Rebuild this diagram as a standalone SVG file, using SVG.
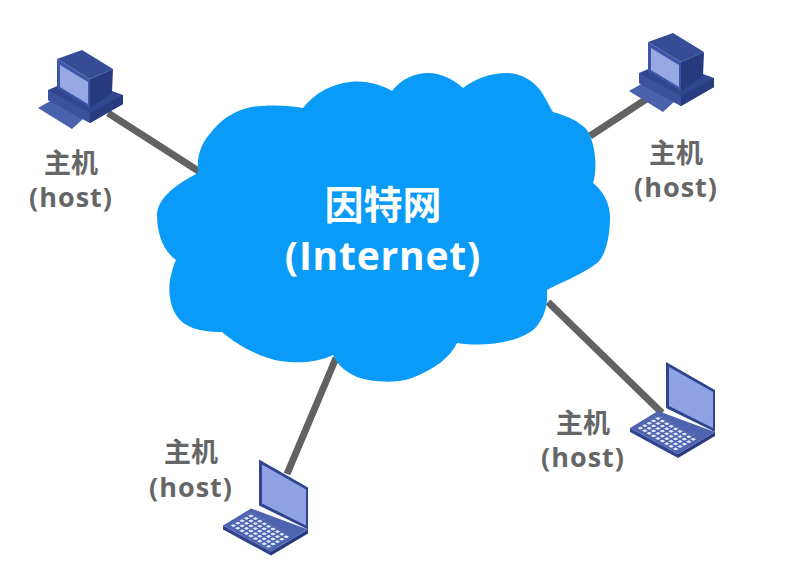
<svg xmlns="http://www.w3.org/2000/svg" width="788" height="572" viewBox="0 0 788 572">
<style>
.lbl{font-family:"Open Sans","Noto Sans CJK SC",sans-serif;font-size:27px;font-weight:700;fill:#666;text-anchor:middle}
.lat{letter-spacing:1px}
.big{font-family:"Open Sans","Noto Sans CJK SC",sans-serif;font-size:39px;font-weight:700;fill:#fff;text-anchor:middle}
.bigl{letter-spacing:.8px}
.wire{stroke:#626262;stroke-width:7;fill:none}
</style>
<defs>
<g id="desktop">
<path d="M38 108L52 100L84 118L72 129Z" fill="#4a62ad"/>
<path d="M48 90L76 78L123 95V104L90 123L48 100Z" fill="#30468f"/>
<path d="M48 90L90 113V123L48 100Z" fill="#3c519c"/>
<path d="M90 113L123 95V104L90 123Z" fill="#2a3c80"/>
<path d="M57 59L82 50L113 69L90 79Z" fill="#374c96"/>
<path d="M57 59L90 79L90 108L57 88Z" fill="#3d55a6"/>
<path d="M90 79L113 69L112 93L90 108Z" fill="#283a7e"/>
<path d="M60 65L88 82V104L60 87Z" fill="#98a8e2"/>
</g>
<pattern id="keys" width="1" height="1" patternUnits="userSpaceOnUse" patternTransform="matrix(4.4 2.6 4.4 -2.4 636 428)">
<rect x="0.18" y="0.18" width="0.64" height="0.64" rx="0.2" fill="#e2e8f8"/>
</pattern>
<g id="laptop">
<path d="M630 428L678 454V458L630 432Z" fill="#2f438e"/>
<path d="M678 454L715 432V436L678 458Z" fill="#27397e"/>
<path d="M630 428L658 411L715 432L678 454Z" fill="#4e64b0"/>
<path d="M636 428L658 415L698 439L676 452Z" fill="url(#keys)"/>
<path d="M666 362L715 390V432L666 408Z" fill="#2f4590"/>
<path d="M669 367L713 392V428L669 406Z" fill="#91a2e4"/>
</g>
</defs>
<rect width="788" height="572" fill="#fff"/>
<g id="connectors" class="wire">
<path d="M108 113L200 172"/>
<path d="M590 136L648 98"/>
<path d="M548 302L662 413"/>
<path d="M336 358L287 474"/>
</g>
<g id="internet">
<path d="M198 173C196 152 204 140 213 130C226 114 246 106 262 106C278 105 292 106 303 108C316 92 332 84 350 82C366 80 382 85 392 91C402 78 416 73 428 73C442 73 454 80 463 88C476 78 492 73 507 73C522 73 534 82 540 90C546 98 549 106 553 112C568 116 580 122 587 130C595 142 598 168 593 183C604 192 610 204 610 217C610 236 606 252 600 260C592 270 562 282 547 290C548 304 545 316 537 326C526 340 490 348 457 343C450 358 433 370 412 378C395 384 372 382 357 377C346 372 338 366 333 355C318 362 300 364 280 361C262 358 238 346 222 332C206 332 190 330 180 320C170 310 168 292 170 280C172 270 174 264 176 260C162 250 157 232 157 214C158 200 172 186 198 173Z" fill="#0a9bf8"/>
<text class="big" x="383" y="219">因特网</text>
<text class="big bigl" x="383" y="270">(Internet)</text>
</g>
<g id="host-top-left">
<use href="#desktop"/>
<text class="lbl" x="71" y="173">主机</text>
<text class="lbl lat" x="71" y="207">(host)</text>
</g>
<g id="host-top-right">
<use href="#desktop" transform="translate(591 -17)"/>
<text class="lbl" x="676" y="163">主机</text>
<text class="lbl lat" x="676" y="197">(host)</text>
</g>
<g id="host-bottom-right">
<use href="#laptop"/>
<text class="lbl" x="583" y="433">主机</text>
<text class="lbl lat" x="583" y="467">(host)</text>
</g>
<g id="host-bottom-left">
<use href="#laptop" transform="translate(-407 97.5)"/>
<text class="lbl" x="191" y="462">主机</text>
<text class="lbl lat" x="191" y="497">(host)</text>
</g>
</svg>
